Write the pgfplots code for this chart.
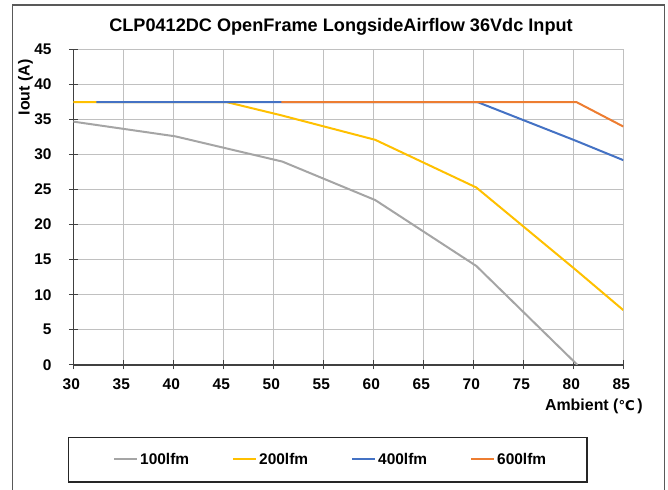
\documentclass[border=0pt]{standalone}
\usepackage{fontspec}
\setmainfont{Liberation Sans}
\newfontfamily\dejavu{DejaVu Sans}
\usepackage{pgfplots}
\pgfplotsset{compat=1.18}
\definecolor{c100}{RGB}{165,165,165}
\definecolor{c200}{RGB}{255,192,0}
\definecolor{c400}{RGB}{68,114,196}
\definecolor{c600}{RGB}{237,125,49}
\definecolor{gridc}{RGB}{192,192,192}
\definecolor{axc}{RGB}{64,64,64}
\definecolor{framec}{RGB}{89,89,89}
\begin{document}
\begin{tikzpicture}
\useasboundingbox (0,0) rectangle (668bp,490bp);
\draw[framec, line width=1.4bp] (12.3bp,-3bp) -- (12.3bp,485bp) -- (664.7bp,485bp) -- (664.7bp,-3bp);
\begin{axis}[
  at={(73.3bp,125.24bp)}, anchor=south west,
  scale only axis, width=550bp, height=315.3bp,
  xmin=30, xmax=85, ymin=0, ymax=45,
  xtick={30,35,...,85}, ytick={0,5,...,45},
  axis x line*=bottom, axis y line*=left,
  axis line style={axc, line width=1.5bp, -},
  tick style={axc, line width=1.3bp},
  major tick length=9bp, tick align=center,
  grid=major,
  major grid style={gridc, line width=1.1bp},
  /pgf/number format/assume math mode=true,
  ticklabel style={font=\bfseries\fontsize{15.5}{15.5}\selectfont},
  xticklabel style={yshift=-6bp, xshift=-2bp},
  yticklabel style={xshift=-13.8bp},
  title={CLP0412DC OpenFrame LongsideAirflow 36Vdc Input},
  title style={at={(rel axis cs:0.4867,1.0386)}, anchor=base, inner sep=0pt, font=\bfseries\fontsize{18.2}{18.2}\selectfont},
  ylabel={Iout (A)},
  ylabel style={at={(rel axis cs:-0.0793,0.8794)}, anchor=base, inner sep=0pt, font=\bfseries\fontsize{16}{16}\selectfont},
  xlabel={Ambient ({\dejavu\fontsize{13.5}{13.5}\selectfont ℃}\,)},
  xlabel style={at={(rel axis cs:1.0358,-0.1451)}, anchor=base east, inner sep=0pt, font=\bfseries\fontsize{16}{16}\selectfont},
  legend columns=4,
  legend image code/.code={\draw[#1] (0bp,0bp) -- (23bp,0bp);},
  legend style={draw=none, fill=none, inner sep=0pt, at={(rel axis cs:0.0722,-0.2998)}, anchor=west,
    font=\bfseries\fontsize{15.5}{15.5}\selectfont,
    nodes={inner xsep=2bp, inner ysep=2bp, text width=90bp, align=left},
    /tikz/column sep=0pt},
  every axis plot/.append style={line width=2bp},
]
\addplot[c100] coordinates {(30,34.7) (40.2,32.6) (50.9,29.0) (60.2,23.5) (70.3,14.1) (80.4,0)};
\addlegendentry{100lfm}
\addplot[c200] coordinates {(30,37.5) (45.3,37.5) (50.8,35.6) (60.2,32.1) (70.3,25.3) (80.2,13.6) (85,7.8)};
\addlegendentry{200lfm}
\addplot[c400] coordinates {(32.3,37.5) (70.4,37.5) (80.2,32.0) (85,29.2)};
\addlegendentry{400lfm}
\addplot[c600] coordinates {(50.8,37.5) (80.3,37.5) (85,34.0)};
\addlegendentry{600lfm}
\end{axis}
\draw[black!85, line width=1.2bp] (68.3bp,8bp) rectangle (587bp,52.7bp);
\end{tikzpicture}
\end{document}
